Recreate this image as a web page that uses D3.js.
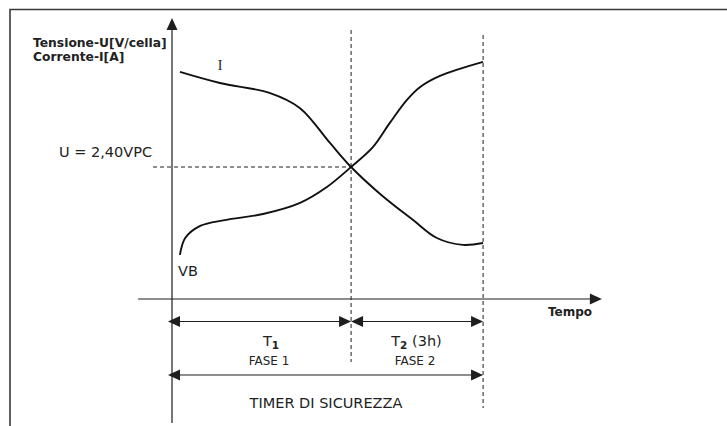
<!DOCTYPE html>
<html>
<head>
<meta charset="utf-8">
<script src="https://cdn.jsdelivr.net/npm/d3@7"></script>
<style>
  html, body { margin: 0; padding: 0; background: #fff; }
  svg { display: block; }
  text { font-family: "DejaVu Sans", Verdana, sans-serif; fill: #222; }
</style>
</head>
<body>
<svg id="chart" width="727" height="426"></svg>
<script>
// ---- data (time in hours, values on a normalised 0-100 scale) ----
const currentTime   = [0.18, 1.09, 2.23, 2.91, 3.59, 4.07, 4.73, 5.48, 6.02, 6.61, 7.07];
const currentValues = [86.0, 81.8, 78.0, 72.3, 59.1, 50.0, 39.8, 29.9, 23.1, 20.5, 21.2];
const voltageTime   = [0.18, 0.30, 0.64, 1.20, 2.07, 2.91, 3.52, 4.07, 4.57, 4.95, 5.34, 5.64, 6.09, 7.07];
const voltageValues = [16.7, 23.1, 27.7, 29.9, 32.2, 36.4, 42.4, 50.0, 57.6, 66.7, 75.4, 80.3, 84.5, 89.8];
const phaseEnds   = [4.07, 7.07];          // end of FASE 1, end of FASE 2 (T2 = 3h)
const thresholdU  = 50.0;                  // U = 2,40VPC level
const seriesLabels = ["I", "VB"];
const axisLabelsY = ["Tensione-U[V/cella]", "Corrente-I[A]"];
const axisLabelX  = "Tempo";
const thresholdLabel = "U = 2,40VPC";
const phaseLabels = [["T", "1", "", "FASE 1"], ["T", "2", " (3h)", "FASE 2"]];
const timerLabel  = "TIMER DI SICUREZZA";

// ---- scales ----
const x = d3.scaleLinear().domain([0, 1]).range([172, 216]);   // 44 px per hour
const y = d3.scaleLinear().domain([0, 100]).range([299, 35]);

const svg = d3.select("#chart");

// frame (left + top edges)
svg.append("path")
  .attr("d", "M10,426 L10,9.5 L727,9.5")
  .attr("fill", "none").attr("stroke", "#3a3a3a").attr("stroke-width", 1.6);

const ink = "#1e1e1e";
function arrowHead(tipX, tipY, dir, len = 12, half = 5.5) {
  let pts;
  if (dir === "right") pts = [[tipX, tipY], [tipX - len, tipY - half], [tipX - len, tipY + half]];
  else if (dir === "left") pts = [[tipX, tipY], [tipX + len, tipY - half], [tipX + len, tipY + half]];
  else pts = [[tipX, tipY], [tipX - half, tipY + len], [tipX + half, tipY + len]];
  svg.append("path").attr("d", "M" + pts.join("L") + "Z").attr("fill", ink);
}

// axes
const x0 = x(0), y0 = y(0);
const xAxisStart = x(-0.77), xAxisEnd = x(9.77);
const yAxisTop = y(106.4), yAxisBottom = 423;
svg.append("line").attr("x1", x0).attr("x2", x0).attr("y1", yAxisBottom).attr("y2", yAxisTop + 6)
  .attr("stroke", ink).attr("stroke-width", 1.2);
arrowHead(x0, yAxisTop, "up");
svg.append("line").attr("x1", xAxisStart).attr("x2", xAxisEnd - 6).attr("y1", y0).attr("y2", y0)
  .attr("stroke", ink).attr("stroke-width", 1.2);
arrowHead(xAxisEnd, y0, "right");

// dashed guides
const dash = "4,3";
svg.append("line").attr("x1", 153).attr("x2", x(phaseEnds[0])).attr("y1", y(thresholdU)).attr("y2", y(thresholdU))
  .attr("stroke", ink).attr("stroke-width", 1).attr("stroke-dasharray", dash);
svg.append("line").attr("x1", x(phaseEnds[0])).attr("x2", x(phaseEnds[0])).attr("y1", 30).attr("y2", 362)
  .attr("stroke", ink).attr("stroke-width", 1).attr("stroke-dasharray", dash);
svg.append("line").attr("x1", x(phaseEnds[1])).attr("x2", x(phaseEnds[1])).attr("y1", 35).attr("y2", 408)
  .attr("stroke", ink).attr("stroke-width", 1).attr("stroke-dasharray", dash);

// curves
const line = d3.line().x(d => x(d[0])).y(d => y(d[1])).curve(d3.curveCatmullRom.alpha(0.5));
svg.append("path").datum(d3.zip(currentTime, currentValues)).attr("d", line)
  .attr("fill", "none").attr("stroke", "#111").attr("stroke-width", 1.9);
svg.append("path").datum(d3.zip(voltageTime, voltageValues)).attr("d", line)
  .attr("fill", "none").attr("stroke", "#111").attr("stroke-width", 1.9);

// series labels
svg.append("text").attr("x", 220).attr("y", 69.5).attr("font-size", 14).attr("text-anchor", "middle")
  .style("font-family", "'Liberation Serif', serif").text(seriesLabels[0]);
svg.append("text").attr("x", 178).attr("y", 276).attr("font-size", 14.5).text(seriesLabels[1]);

// axis labels
svg.append("text").attr("x", 33).attr("y", 47).attr("font-size", 12.3).attr("font-weight", "bold").text(axisLabelsY[0]);
svg.append("text").attr("x", 33).attr("y", 61).attr("font-size", 12.3).attr("font-weight", "bold").text(axisLabelsY[1]);
svg.append("text").attr("x", 570).attr("y", 316).attr("font-size", 12).attr("font-weight", "bold")
  .attr("text-anchor", "middle").text(axisLabelX);
svg.append("text").attr("x", 59).attr("y", 157).attr("font-size", 14.5).text(thresholdLabel);

// phase dimension arrows
function dimArrow(xa, xb, yy) {
  svg.append("line").attr("x1", xa + 8).attr("x2", xb - 8).attr("y1", yy).attr("y2", yy)
    .attr("stroke", ink).attr("stroke-width", 1.2);
  arrowHead(xa, yy, "left");
  arrowHead(xb, yy, "right");
}
const xStart = x(0) - 4;
dimArrow(xStart, x(phaseEnds[0]), 321.5);
dimArrow(x(phaseEnds[0]), x(phaseEnds[1]), 321.5);
dimArrow(xStart, x(phaseEnds[1]), 375);

phaseLabels.forEach((lab, i) => {
  const cx = i === 0 ? 271 : 416.5;
  const t = svg.append("text").attr("x", cx).attr("y", 346).attr("font-size", 14.5).attr("text-anchor", "middle");
  t.append("tspan").text(lab[0]);
  t.append("tspan").attr("font-size", 10.5).attr("font-weight", "bold").attr("dy", 2.5).text(lab[1]);
  t.append("tspan").attr("dy", -2.5).text(lab[2]);
  svg.append("text").attr("x", i === 0 ? 269 : 415).attr("y", 365).attr("font-size", 12)
    .attr("text-anchor", "middle").text(lab[3]);
});
svg.append("text").attr("x", 326).attr("y", 408).attr("font-size", 14.5).attr("text-anchor", "middle").text(timerLabel);
</script>
</body>
</html>
